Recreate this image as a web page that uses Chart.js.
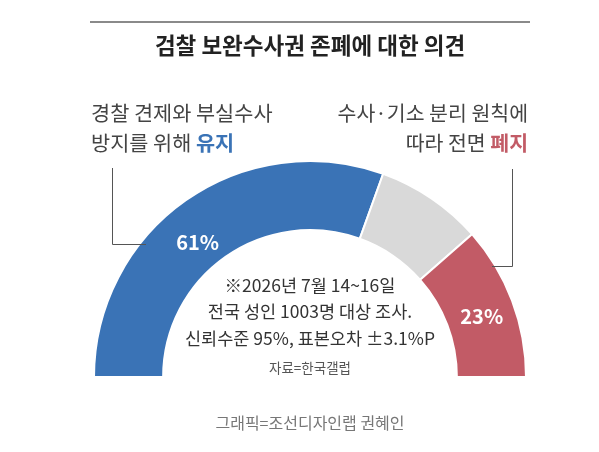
<!DOCTYPE html>
<html>
<head>
<meta charset="utf-8">
<script src="https://cdn.jsdelivr.net/npm/chart.js@4/dist/chart.umd.min.js"></script>
<style>
  html, body { margin: 0; padding: 0; background: #fff; }
  #wrap { position: relative; width: 599px; height: 452px; }
</style>
</head>
<body>
<div id="wrap"><canvas id="pollChart" width="599" height="452"></canvas></div>
<script>
// Survey data
const categories = ['유지', '모름/기타', '폐지'];
const shares = [61, 16, 23];
const sliceColors = ['#3a73b6', '#d9d9d9', '#c25b66'];
const showValue = [true, false, true];

const titleText = '검찰 보완수사권 존폐에 대한 의견';
const leftLines = ['경찰 견제와 부실수사', '방지를 위해 '];
const leftKey = '유지';
const rightLines = ['수사·기소 분리 원칙에', '따라 전면 '];
const rightKey = '폐지';
const noteLines = ['※2026년 7월 14~16일', '전국 성인 1003명 대상 조사.', '신뢰수준 95%, 표본오차 ±3.1%P'];
const sourceText = '자료=한국갤럽';
const creditText = '그래픽=조선디자인랩 권혜인';

const FONT = '"Noto Sans CJK KR", "Noto Sans", sans-serif';

// Draws titles, labels, leader lines and notes on top of the doughnut
const annotations = {
  id: 'annotations',
  afterDraw(chart) {
    const ctx = chart.ctx;
    const meta = chart.getDatasetMeta(0);
    const cx = meta.data[0].x;
    ctx.save();

    // top rule + title
    ctx.strokeStyle = '#8a8a8a';
    ctx.lineWidth = 2;
    ctx.beginPath();
    ctx.moveTo(90, 22);
    ctx.lineTo(530, 22);
    ctx.stroke();

    ctx.fillStyle = '#222';
    ctx.font = `bold 22.5px ${FONT}`;
    ctx.textAlign = 'center';
    ctx.textBaseline = 'middle';
    ctx.fillText(titleText, cx, 45);

    // left label
    ctx.textAlign = 'left';
    ctx.font = `20.8px ${FONT}`;
    ctx.fillStyle = '#444';
    ctx.fillText(leftLines[0], 91, 113);
    ctx.fillText(leftLines[1], 91, 143);
    let w = ctx.measureText(leftLines[1]).width;
    ctx.font = `bold 20.8px ${FONT}`;
    ctx.fillStyle = sliceColors[0];
    ctx.fillText(leftKey, 91 + w, 143);

    // right label (right aligned)
    ctx.textAlign = 'right';
    ctx.font = `20.5px ${FONT}`;
    ctx.fillStyle = '#444';
    ctx.fillText(rightLines[0], 528, 113);
    ctx.font = `bold 20.5px ${FONT}`;
    ctx.fillStyle = sliceColors[2];
    ctx.fillText(rightKey, 528, 143);
    const kw = ctx.measureText(rightKey).width;
    ctx.font = `20.5px ${FONT}`;
    ctx.fillStyle = '#444';
    ctx.fillText(rightLines[1], 528 - kw, 143);

    // leader lines
    ctx.strokeStyle = '#555';
    ctx.lineWidth = 1;
    ctx.beginPath();
    ctx.moveTo(112.5, 168);
    ctx.lineTo(112.5, 244.5);
    ctx.lineTo(146, 244.5);
    ctx.moveTo(512.5, 169);
    ctx.lineTo(512.5, 266.5);
    ctx.lineTo(492, 266.5);
    ctx.stroke();

    // value labels inside slices
    ctx.textAlign = 'center';
    ctx.fillStyle = '#fff';
    ctx.font = `bold 20px ${FONT}`;
    const nudges = [[-8, 14], [0, 0], [2, 4]];
    meta.data.forEach((arc, i) => {
      if (!showValue[i]) return;
      const p = arc.tooltipPosition();
      ctx.fillText(shares[i] + '%', p.x + nudges[i][0], p.y + nudges[i][1]);
    });

    // survey note
    ctx.fillStyle = '#333';
    ctx.font = `17.5px ${FONT}`;
    noteLines.forEach((line, i) => {
      ctx.fillText(line, cx, 285 + i * 26.5);
    });
    ctx.font = `13.5px ${FONT}`;
    ctx.fillStyle = '#555';
    ctx.fillText(sourceText, cx, 368);

    // credit
    ctx.font = `16px ${FONT}`;
    ctx.fillStyle = '#777';
    ctx.fillText(creditText, cx, 423);

    ctx.restore();
  }
};

new Chart(document.getElementById('pollChart'), {
  type: 'doughnut',
  data: {
    labels: categories,
    datasets: [{
      data: shares,
      backgroundColor: sliceColors,
      borderColor: '#fff',
      borderWidth: 2
    }]
  },
  options: {
    responsive: false,
    animation: false,
    rotation: -90,
    circumference: 180,
    cutout: '68%',
    layout: { padding: { left: 92, right: 71, top: 160, bottom: 74 } },
    plugins: {
      legend: { display: false },
      tooltip: { enabled: false }
    }
  },
  plugins: [annotations]
});
</script>
</body>
</html>
